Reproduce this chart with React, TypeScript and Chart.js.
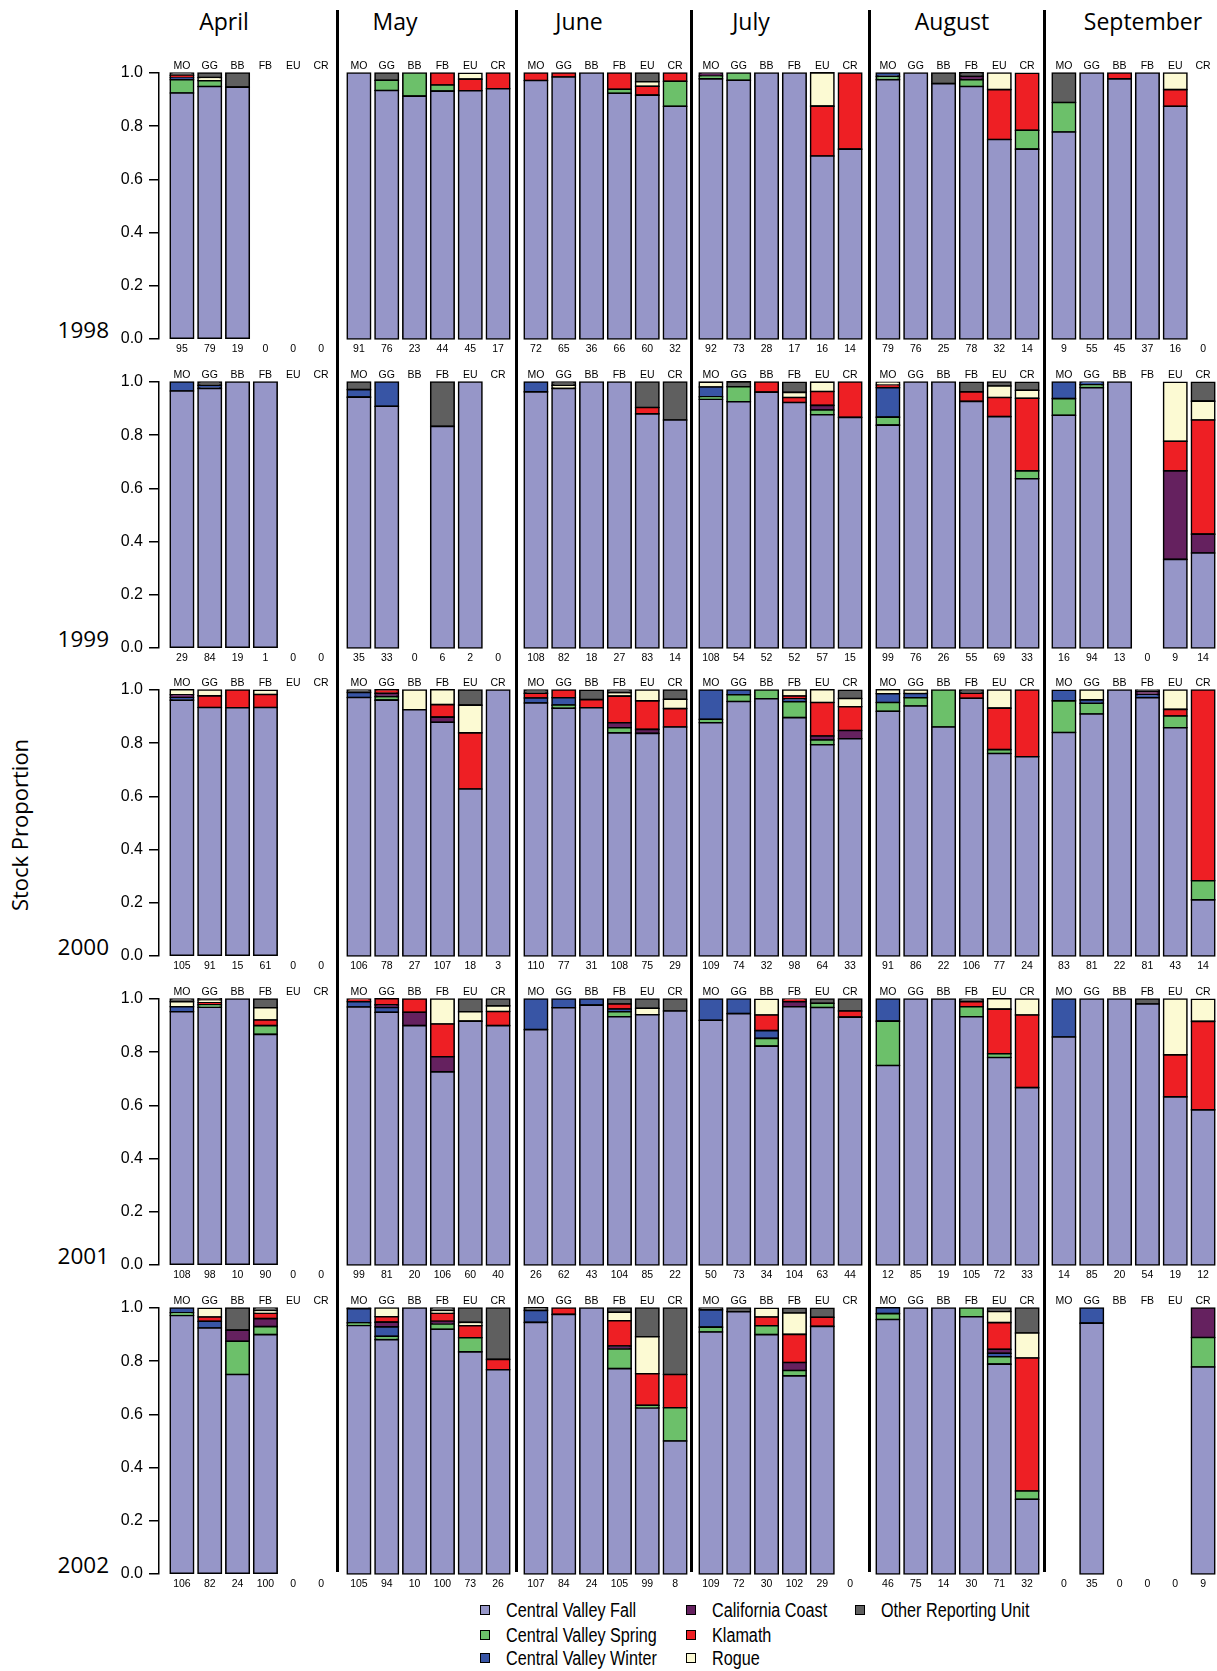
import React, { useEffect, useRef } from 'react';
import { Chart, registerables } from 'chart.js';

Chart.register(...registerables);

// ---------------- data ----------------
const years = ['1998', '1999', '2000', '2001', '2002'];
const months = ['April', 'May', 'June', 'July', 'August', 'September'];
const locations = ['MO', 'GG', 'BB', 'FB', 'EU', 'CR'];
const stockNames = [
  'Central Valley Fall',
  'Central Valley Spring',
  'Central Valley Winter',
  'California Coast',
  'Klamath',
  'Rogue',
  'Other Reporting Unit',
];
const stockColors = ['#9696C8', '#6CC06A', '#3855A5', '#65215F', '#EE1F24', '#FCFAD3', '#5F5F5F'];
const yTickValues = [0, 0.2, 0.4, 0.6, 0.8, 1.0];

// each row = one year; 36 values = 6 months (Apr..Sep) x 6 locations (MO GG BB FB EU CR)
const cvFall = [
  [0.925, 0.949, 0.947, 0, 0, 0, 1, 0.934, 0.913, 0.932, 0.933, 0.941, 0.972, 0.985, 1, 0.924, 0.917, 0.875, 0.978, 0.973, 1, 1, 0.688, 0.714, 0.975, 1, 0.96, 0.949, 0.75, 0.714, 0.778, 1, 0.978, 1, 0.875, 0],
  [0.966, 0.976, 1, 1, 0, 0, 0.943, 0.909, 0, 0.833, 1, 0, 0.963, 0.976, 1, 1, 0.88, 0.857, 0.935, 0.926, 0.962, 0.923, 0.877, 0.867, 0.838, 1, 1, 0.927, 0.87, 0.636, 0.875, 0.979, 1, 0, 0.333, 0.357],
  [0.962, 0.934, 0.933, 0.934, 0, 0, 0.972, 0.962, 0.926, 0.879, 0.628, 1, 0.951, 0.932, 0.933, 0.839, 0.837, 0.861, 0.877, 0.957, 0.967, 0.896, 0.794, 0.817, 0.92, 0.94, 0.861, 0.969, 0.761, 0.749, 0.84, 0.91, 1, 0.971, 0.858, 0.211],
  [0.952, 0.969, 1, 0.867, 0, 0, 0.97, 0.95, 0.9, 0.726, 0.917, 0.9, 0.885, 0.967, 0.977, 0.933, 0.941, 0.955, 0.92, 0.945, 0.823, 0.971, 0.968, 0.932, 0.75, 1, 1, 0.933, 0.78, 0.667, 0.857, 1, 1, 0.981, 0.632, 0.583],
  [0.972, 0.925, 0.75, 0.9, 0, 0, 0.934, 0.881, 1, 0.92, 0.835, 0.768, 0.946, 0.976, 1, 0.772, 0.624, 0.5, 0.91, 0.986, 0.9, 0.745, 0.931, 0, 0.957, 1, 1, 0.967, 0.789, 0.281, 0, 0.943, 0, 0, 0, 0.778],
];
const cvSpring = [
  [0.05, 0.022, 0, 0, 0, 0, 0, 0.039, 0.087, 0.023, 0, 0, 0, 0, 0, 0.015, 0, 0.094, 0.011, 0.027, 0, 0, 0, 0, 0.0125, 0, 0, 0.026, 0, 0.071, 0.111, 0, 0, 0, 0, 0],
  [0, 0, 0, 0, 0, 0, 0, 0, 0, 0, 0, 0, 0, 0, 0, 0, 0, 0, 0.009, 0.056, 0, 0, 0.0175, 0, 0.03, 0, 0, 0, 0, 0.03, 0.0625, 0.0105, 0, 0, 0, 0],
  [0, 0, 0, 0, 0, 0, 0, 0.013, 0, 0, 0, 0, 0, 0.011, 0, 0.019, 0, 0, 0.013, 0.025, 0.033, 0.06, 0.018, 0, 0.033, 0.031, 0.139, 0, 0.015, 0, 0.119, 0.04, 0, 0, 0.044, 0.072],
  [0, 0.009, 0, 0.033, 0, 0, 0, 0, 0, 0, 0, 0, 0, 0, 0, 0.019, 0, 0, 0, 0, 0.029, 0, 0.016, 0, 0.167, 0, 0, 0.038, 0.014, 0, 0, 0, 0, 0, 0, 0],
  [0.01, 0, 0.125, 0.03, 0, 0, 0.01, 0.013, 0, 0.02, 0.053, 0, 0, 0, 0, 0.074, 0.01, 0.125, 0.018, 0, 0.033, 0.02, 0, 0, 0.022, 0, 0, 0.033, 0.028, 0.031, 0, 0, 0, 0, 0, 0.111],
];
const cvWinter = [
  [0.008, 0, 0, 0, 0, 0, 0, 0, 0, 0, 0, 0, 0, 0, 0, 0, 0, 0, 0, 0, 0, 0, 0, 0, 0.0125, 0, 0, 0, 0, 0, 0, 0, 0, 0, 0, 0],
  [0.034, 0.012, 0, 0, 0, 0, 0.0285, 0.091, 0, 0, 0, 0, 0.037, 0, 0, 0, 0, 0, 0.037, 0, 0, 0, 0, 0, 0.111, 0, 0, 0, 0, 0, 0.0625, 0.0105, 0, 0, 0, 0],
  [0.01, 0, 0, 0, 0, 0, 0.019, 0, 0, 0, 0, 0, 0.019, 0.028, 0, 0, 0, 0, 0.11, 0.018, 0, 0.011, 0, 0, 0.033, 0.016, 0, 0, 0, 0, 0.04, 0.013, 0, 0.012, 0, 0],
  [0.019, 0, 0, 0, 0, 0, 0.02, 0.018, 0, 0, 0, 0, 0.115, 0.033, 0.023, 0.01, 0, 0, 0.08, 0.055, 0.029, 0, 0, 0, 0.083, 0, 0, 0, 0, 0, 0.143, 0, 0, 0, 0, 0],
  [0.018, 0.025, 0, 0, 0, 0, 0.053, 0.035, 0, 0, 0, 0, 0.045, 0, 0, 0, 0, 0, 0.065, 0, 0, 0, 0, 0, 0.022, 0, 0, 0, 0.013, 0, 0, 0.057, 0, 0, 0, 0],
];
const calCoast = [
  [0, 0, 0, 0, 0, 0, 0, 0, 0, 0, 0, 0, 0, 0, 0, 0, 0, 0, 0.011, 0, 0, 0, 0, 0, 0, 0, 0, 0.013, 0, 0, 0, 0, 0, 0, 0, 0],
  [0, 0, 0, 0, 0, 0, 0, 0, 0, 0, 0, 0, 0, 0, 0, 0, 0, 0, 0, 0, 0, 0, 0.0175, 0, 0, 0, 0, 0, 0, 0, 0, 0, 0, 0, 0.333, 0.071],
  [0.01, 0, 0, 0, 0, 0, 0, 0.013, 0, 0.019, 0, 0, 0, 0, 0, 0.019, 0.015, 0, 0, 0, 0, 0, 0.015, 0.031, 0, 0, 0, 0, 0, 0, 0, 0, 0, 0.012, 0, 0],
  [0, 0, 0, 0, 0, 0, 0, 0.01, 0.05, 0.057, 0, 0, 0, 0, 0, 0, 0, 0, 0, 0, 0, 0.019, 0, 0, 0, 0, 0, 0, 0, 0, 0, 0, 0, 0, 0, 0],
  [0, 0, 0.042, 0.03, 0, 0, 0, 0.018, 0, 0.01, 0, 0, 0, 0, 0, 0.011, 0, 0, 0, 0, 0, 0.03, 0, 0, 0, 0, 0, 0, 0.015, 0, 0, 0, 0, 0, 0, 0.111],
];
const klamath = [
  [0.008, 0, 0, 0, 0, 0, 0, 0, 0, 0.045, 0.044, 0.059, 0.028, 0.015, 0, 0.061, 0.033, 0.031, 0, 0, 0, 0, 0.1875, 0.286, 0, 0, 0, 0, 0.1875, 0.214, 0, 0, 0.022, 0, 0.0625, 0],
  [0, 0, 0, 0, 0, 0, 0, 0, 0, 0, 0, 0, 0, 0, 0, 0, 0.024, 0, 0, 0, 0.038, 0.019, 0.0525, 0.133, 0.01, 0, 0, 0.036, 0.072, 0.273, 0, 0, 0, 0, 0.111, 0.429],
  [0, 0.044, 0.067, 0.049, 0, 0, 0, 0.013, 0, 0.047, 0.211, 0, 0.018, 0.029, 0.031, 0.1, 0.107, 0.069, 0, 0, 0, 0.01, 0.126, 0.089, 0, 0, 0, 0.019, 0.156, 0.251, 0, 0, 0, 0, 0.025, 0.717],
  [0, 0.008, 0, 0.021, 0, 0, 0.01, 0.023, 0.05, 0.123, 0, 0.053, 0, 0, 0, 0.019, 0, 0, 0, 0, 0.059, 0.01, 0, 0.023, 0, 0, 0, 0.019, 0.168, 0.273, 0, 0, 0, 0, 0.158, 0.333],
  [0, 0.016, 0, 0.02, 0, 0, 0, 0.02, 0, 0.03, 0.045, 0.039, 0, 0.024, 0, 0.095, 0.119, 0.125, 0, 0, 0.033, 0.106, 0.034, 0, 0, 0, 0, 0, 0.1, 0.5, 0, 0, 0, 0, 0, 0],
];
const rogue = [
  [0, 0.012, 0, 0, 0, 0, 0, 0, 0, 0, 0.022, 0, 0, 0, 0, 0, 0.017, 0, 0, 0, 0, 0, 0.125, 0, 0, 0, 0, 0, 0.0625, 0, 0, 0, 0, 0, 0.0625, 0],
  [0, 0, 0, 0, 0, 0, 0, 0, 0, 0, 0, 0, 0, 0.012, 0, 0, 0, 0, 0.0185, 0, 0, 0.019, 0.035, 0, 0.01, 0, 0, 0, 0.043, 0.03, 0, 0, 0, 0, 0.222, 0.071],
  [0.019, 0.022, 0, 0.016, 0, 0, 0, 0, 0.074, 0.056, 0.104, 0, 0, 0, 0, 0.013, 0.041, 0.035, 0, 0, 0, 0.023, 0.048, 0.031, 0.015, 0.013, 0, 0, 0.068, 0, 0, 0.037, 0, 0, 0.073, 0],
  [0.019, 0.01, 0, 0.046, 0, 0, 0, 0, 0, 0.094, 0.035, 0.021, 0, 0, 0, 0, 0.024, 0, 0, 0, 0.059, 0, 0, 0, 0, 0, 0, 0, 0.039, 0.06, 0, 0, 0, 0, 0.21, 0.083],
  [0, 0.033, 0, 0.01, 0, 0, 0, 0.033, 0, 0.01, 0.013, 0, 0, 0, 0, 0.032, 0.139, 0, 0, 0, 0.033, 0.08, 0, 0, 0, 0, 0, 0, 0.042, 0.094, 0, 0, 0, 0, 0, 0],
];
const otherUnit = [
  [0.009, 0.017, 0.053, 0, 0, 0, 0, 0.027, 0, 0, 0, 0, 0, 0, 0, 0, 0.033, 0, 0, 0, 0, 0, 0, 0, 0, 0, 0.04, 0.013, 0, 0, 0.111, 0, 0, 0, 0, 0],
  [0, 0.012, 0, 0, 0, 0, 0.0285, 0, 0, 0.167, 0, 0, 0, 0.012, 0, 0, 0.096, 0.143, 0, 0.0185, 0, 0.038, 0, 0, 0, 0, 0, 0.036, 0.015, 0.03, 0, 0, 0, 0, 0, 0.071],
  [0, 0, 0, 0, 0, 0, 0.009, 0, 0, 0, 0.057, 0, 0.012, 0, 0.035, 0.01, 0, 0.035, 0, 0, 0, 0, 0, 0.031, 0, 0, 0, 0.012, 0, 0, 0, 0, 0, 0.005, 0, 0],
  [0.01, 0.005, 0, 0.033, 0, 0, 0, 0, 0, 0, 0.048, 0.026, 0, 0, 0, 0.019, 0.035, 0.045, 0, 0, 0, 0, 0.016, 0.045, 0, 0, 0, 0.01, 0, 0, 0, 0, 0, 0.019, 0, 0],
  [0, 0, 0.083, 0.01, 0, 0, 0.003, 0, 0, 0.01, 0.054, 0.193, 0.01, 0, 0, 0.016, 0.108, 0.25, 0.007, 0.014, 0, 0.018, 0.034, 0, 0, 0, 0, 0, 0.013, 0.094, 0, 0, 0, 0, 0, 0],
];
const sampleSizes = [
  [95, 79, 19, 0, 0, 0, 91, 76, 23, 44, 45, 17, 72, 65, 36, 66, 60, 32, 92, 73, 28, 17, 16, 14, 79, 76, 25, 78, 32, 14, 9, 55, 45, 37, 16, 0],
  [29, 84, 19, 1, 0, 0, 35, 33, 0, 6, 2, 0, 108, 82, 18, 27, 83, 14, 108, 54, 52, 52, 57, 15, 99, 76, 26, 55, 69, 33, 16, 94, 13, 0, 9, 14],
  [105, 91, 15, 61, 0, 0, 106, 78, 27, 107, 18, 3, 110, 77, 31, 108, 75, 29, 109, 74, 32, 98, 64, 33, 91, 86, 22, 106, 77, 24, 83, 81, 22, 81, 43, 14],
  [108, 98, 10, 90, 0, 0, 99, 81, 20, 106, 60, 40, 26, 62, 43, 104, 85, 22, 50, 73, 34, 104, 63, 44, 12, 85, 19, 105, 72, 33, 14, 85, 20, 54, 19, 12],
  [106, 82, 24, 100, 0, 0, 105, 94, 10, 100, 73, 26, 107, 84, 24, 105, 99, 8, 109, 72, 30, 102, 29, 0, 46, 75, 14, 30, 71, 32, 0, 35, 0, 0, 0, 9],
];

const stockSeries = [cvFall, cvSpring, cvWinter, calCoast, klamath, rogue, otherUnit];

// ---------------- layout ----------------
const ROW_TOPS = [73, 382, 690, 999, 1308];
const PLOT_H = 266;
const LABEL_BAND = 20;
const PANEL_LEFTS = [159, 345, 522, 697, 874, 1050];
const PANEL_W = 167;
const AXIS_W = 59;
const AXIS_GAP = 9;
const BAR_W = 23.5;
const SEPARATORS = [337, 516, 691, 869, 1044];
const TITLE_CENTERS = [224, 395, 579, 751, 952, 1143];
const LEGEND_COLS = [[0, 1, 2], [3, 4, 5], [6]];
const LEGEND_COL_X = [480, 686, 855];
const LEGEND_ROW_Y = [1610, 1635, 1658];

const SANS = "'Liberation Sans', Arial, Helvetica, sans-serif";
const HEAD = "'Open Sans', 'Noto Sans', sans-serif";

Chart.defaults.font.family = SANS;
Chart.defaults.color = '#000';

function PanelChart({ r, m }: { r: number; m: number }) {
  const ref = useRef<HTMLCanvasElement | null>(null);
  const first = m === 0;
  const width = first ? AXIS_W + AXIS_GAP + PANEL_W : PANEL_W;
  const height = LABEL_BAND * 2 + PLOT_H;
  const left = first ? PANEL_LEFTS[0] - AXIS_W : PANEL_LEFTS[m];
  const top = ROW_TOPS[r] - LABEL_BAND;

  useEffect(() => {
    const canvas = ref.current;
    if (!canvas) return;
    const nLoc = locations.length;
    const slot = PANEL_W / nLoc;
    const xMin = -0.5 - (first ? AXIS_GAP / slot : 0);
    const xMax = nLoc - 0.5;
    const start = m * nLoc;
    const nSlice = sampleSizes[r].slice(start, start + nLoc);

    const datasets = stockSeries.map((series, k) => ({
      label: stockNames[k],
      data: series[r].slice(start, start + nLoc).map((v, i) => ({ x: i, y: v > 0 ? v : null })),
      backgroundColor: stockColors[k],
      borderColor: '#000',
      borderWidth: 1.6,
      borderSkipped: false as any,
      inflateAmount: 0.8,
      barThickness: BAR_W,
      clip: false as any,
      xAxisID: 'x',
      yAxisID: 'y',
    }));

    const tickFont = { family: SANS, size: 10.5 };
    const fixTicks = (s: any) => {
      s.ticks = locations.map((_, i) => ({ value: i }));
    };
    const fitX = (s: any) => {
      s.height = LABEL_BAND;
      s.paddingLeft = 0;
      s.paddingRight = 0;
    };

    const chart = new Chart(canvas, {
      type: 'bar',
      data: { datasets: datasets as any },
      options: {
        responsive: false,
        animation: false,
        devicePixelRatio: 1,
        layout: { padding: 0 },
        plugins: { legend: { display: false }, tooltip: { enabled: false } },
        scales: {
          x: {
            type: 'linear',
            position: 'top',
            min: xMin,
            max: xMax,
            bounds: 'data',
            offset: false,
            stacked: true,
            grid: { display: false, drawTicks: false },
            border: { display: false },
            ticks: {
              padding: 1,
              font: tickFont,
              color: '#000',
              maxRotation: 0,
              autoSkip: false,
              callback: (v: any) => locations[v] ?? '',
            },
            afterBuildTicks: fixTicks,
            afterFit: fitX,
          },
          xb: {
            type: 'linear',
            position: 'bottom',
            min: xMin,
            max: xMax,
            bounds: 'data',
            offset: false,
            grid: { display: false, drawTicks: false },
            border: { display: false },
            ticks: {
              padding: 4,
              font: tickFont,
              color: '#000',
              maxRotation: 0,
              autoSkip: false,
              callback: (v: any) => (nSlice[v] !== undefined ? String(nSlice[v]) : ''),
            },
            afterBuildTicks: fixTicks,
            afterFit: fitX,
          },
          y: {
            type: 'linear',
            display: first,
            position: 'left',
            min: 0,
            max: 1,
            bounds: 'data',
            stacked: true,
            grid: {
              display: true,
              drawOnChartArea: false,
              drawTicks: true,
              tickLength: 10,
              color: '#000',
              lineWidth: 1.5,
            },
            border: { display: true, color: '#000', width: 1.5 },
            ticks: {
              padding: 6,
              font: { family: SANS, size: 16 },
              color: '#000',
              callback: (v: any) => Number(v).toFixed(1),
            },
            afterBuildTicks: (s: any) => {
              s.ticks = yTickValues.map((v) => ({ value: v }));
            },
            afterFit: (s: any) => {
              s.width = first ? AXIS_W : 0;
              s.paddingTop = 0;
              s.paddingBottom = 0;
            },
          },
        },
      } as any,
    });
    return () => chart.destroy();
  }, [r, m]);

  return (
    <canvas
      ref={ref}
      width={width}
      height={height}
      style={{ position: 'absolute', left, top, width, height }}
    />
  );
}

export default function App() {
  return (
    <div
      style={{
        position: 'absolute',
        left: 0,
        top: 0,
        width: 1217,
        height: 1671,
        background: '#fff',
        overflow: 'hidden',
      }}
    >
      {months.map((name, m) => (
        <div
          key={name}
          style={{
            position: 'absolute',
            left: TITLE_CENTERS[m] - 100,
            width: 200,
            top: 10,
            textAlign: 'center',
            fontFamily: HEAD,
            fontSize: 23,
            lineHeight: '23px',
            color: '#000',
          }}
        >
          {name}
        </div>
      ))}
      {SEPARATORS.map((x, i) => (
        <div
          key={'sep' + i}
          style={{ position: 'absolute', left: x - 1.5, top: 10, width: 3, height: 1562, background: '#000' }}
        />
      ))}
      {years.map((y, r) => (
        <div
          key={y}
          style={{
            position: 'absolute',
            left: 0,
            width: 109,
            top: ROW_TOPS[r] + PLOT_H - 20,
            textAlign: 'right',
            fontFamily: HEAD,
            fontSize: 22.5,
            lineHeight: '22.5px',
            color: '#000',
          }}
        >
          {y}
        </div>
      ))}
      <div
        style={{
          position: 'absolute',
          left: 19,
          top: 825,
          transform: 'translate(-50%, -50%) rotate(-90deg)',
          whiteSpace: 'nowrap',
          fontFamily: HEAD,
          fontSize: 22,
          color: '#000',
        }}
      >
        Stock Proportion
      </div>
      {years.map((y, r) => months.map((mo, m) => <PanelChart key={y + mo} r={r} m={m} />))}
      {LEGEND_COLS.map((col, c) =>
        col.map((k, row) => (
          <div
            key={'leg' + k}
            style={{
              position: 'absolute',
              left: LEGEND_COL_X[c],
              top: LEGEND_ROW_Y[row] - 12,
              height: 24,
              display: 'flex',
              alignItems: 'center',
              whiteSpace: 'nowrap',
            }}
          >
            <div
              style={{
                width: 10,
                height: 10,
                boxSizing: 'border-box',
                border: '1.5px solid #000',
                background: stockColors[k],
                marginRight: 16,
                flex: 'none',
              }}
            />
            <span
              style={{
                display: 'inline-block',
                fontFamily: SANS,
                fontSize: 19.5,
                color: '#000',
                transform: 'scaleX(0.83)',
                transformOrigin: 'left center',
              }}
            >
              {stockNames[k]}
            </span>
          </div>
        ))
      )}
    </div>
  );
}
